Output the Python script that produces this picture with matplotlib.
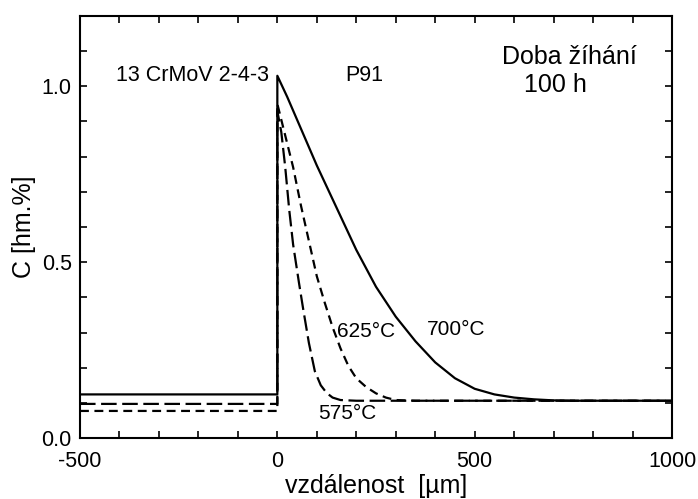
import matplotlib
matplotlib.use("Agg")
import matplotlib.pyplot as plt
from matplotlib.ticker import MultipleLocator

plt.rcParams["font.family"] = ["Liberation Sans", "DejaVu Sans"]
plt.rcParams["axes.unicode_minus"] = False

# Carbon profile across the weld joint, annealed 100 h
left_x = [-500, 0]
# left side (13 CrMoV 2-4-3) plateau levels
left_700 = [0.124, 0.124]
left_625 = [0.077, 0.077]
left_575 = [0.097, 0.097]

x_700 = [0, 25, 50, 100, 150, 200, 250, 300, 350, 400, 450, 500, 550, 600,
         650, 700, 750, 800, 1000]
c_700 = [1.03, 0.97, 0.905, 0.775, 0.655, 0.535, 0.43, 0.345, 0.275, 0.215,
         0.17, 0.14, 0.124, 0.115, 0.11, 0.107, 0.106, 0.106, 0.106]

x_625 = [0, 20, 40, 60, 80, 100, 120, 140, 160, 180, 200, 225, 250, 275,
         300, 350, 1000]
c_625 = [0.95, 0.86, 0.77, 0.66, 0.56, 0.46, 0.385, 0.315, 0.255, 0.205,
         0.17, 0.145, 0.127, 0.115, 0.108, 0.106, 0.106]

x_575 = [0, 10, 20, 30, 40, 55, 65, 80, 95, 110, 125, 140, 160, 200, 1000]
c_575 = [0.93, 0.87, 0.77, 0.65, 0.55, 0.44, 0.37, 0.27, 0.19, 0.15, 0.128,
         0.115, 0.108, 0.106, 0.106]

fig = plt.figure(figsize=(6.98, 4.99), dpi=100)
ax = fig.add_axes([0.1146, 0.1222, 0.8482, 0.8458])

lw = 1.6
long_dash = (0, (7, 2.5))
short_dash = (0, (4, 2.5))

# joined profiles: plateau, vertical step at the interface, decay
ax.plot(left_x + x_700, left_700 + c_700, color="black", lw=lw)
ax.plot(left_x + x_625, left_625 + c_625, color="black", lw=lw, linestyle=short_dash)
ax.plot(left_x + x_575, left_575 + c_575, color="black", lw=lw, linestyle=long_dash)

ax.set_xlim(-500, 1000)
ax.set_ylim(0, 1.2)
ax.xaxis.set_major_locator(MultipleLocator(500))
ax.xaxis.set_minor_locator(MultipleLocator(100))
ax.yaxis.set_major_locator(MultipleLocator(0.5))
ax.yaxis.set_minor_locator(MultipleLocator(0.1))
ax.yaxis.set_major_formatter(matplotlib.ticker.FormatStrFormatter("%.1f"))
ax.tick_params(which="both", direction="in", top=True, right=True,
               length=5, width=1.2, labelsize=15.5)
ax.tick_params(axis="x", pad=9)
ax.tick_params(axis="y", pad=6)
for s in ax.spines.values():
    s.set_linewidth(1.5)

ax.set_xlabel("vzdálenost  [µm]", fontsize=18, labelpad=2)
ax.set_ylabel("C [hm.%]", fontsize=18, labelpad=4)

ax.text(-410, 1.03, "13 CrMoV 2-4-3", fontsize=15.5, va="center", ha="left")
ax.text(172, 1.03, "P91", fontsize=15.5, va="center", ha="left")
ax.text(739, 1.083, "Doba žíhání", fontsize=18, va="center", ha="center")
ax.text(704, 1.003, "100 h", fontsize=18, va="center", ha="center")
ax.text(150, 0.302, "625°C", fontsize=15, va="center", ha="left")
ax.text(378, 0.308, "700°C", fontsize=15, va="center", ha="left")
ax.text(103, 0.07, "575°C", fontsize=15, va="center", ha="left")

fig.savefig("out.png", dpi=100)
